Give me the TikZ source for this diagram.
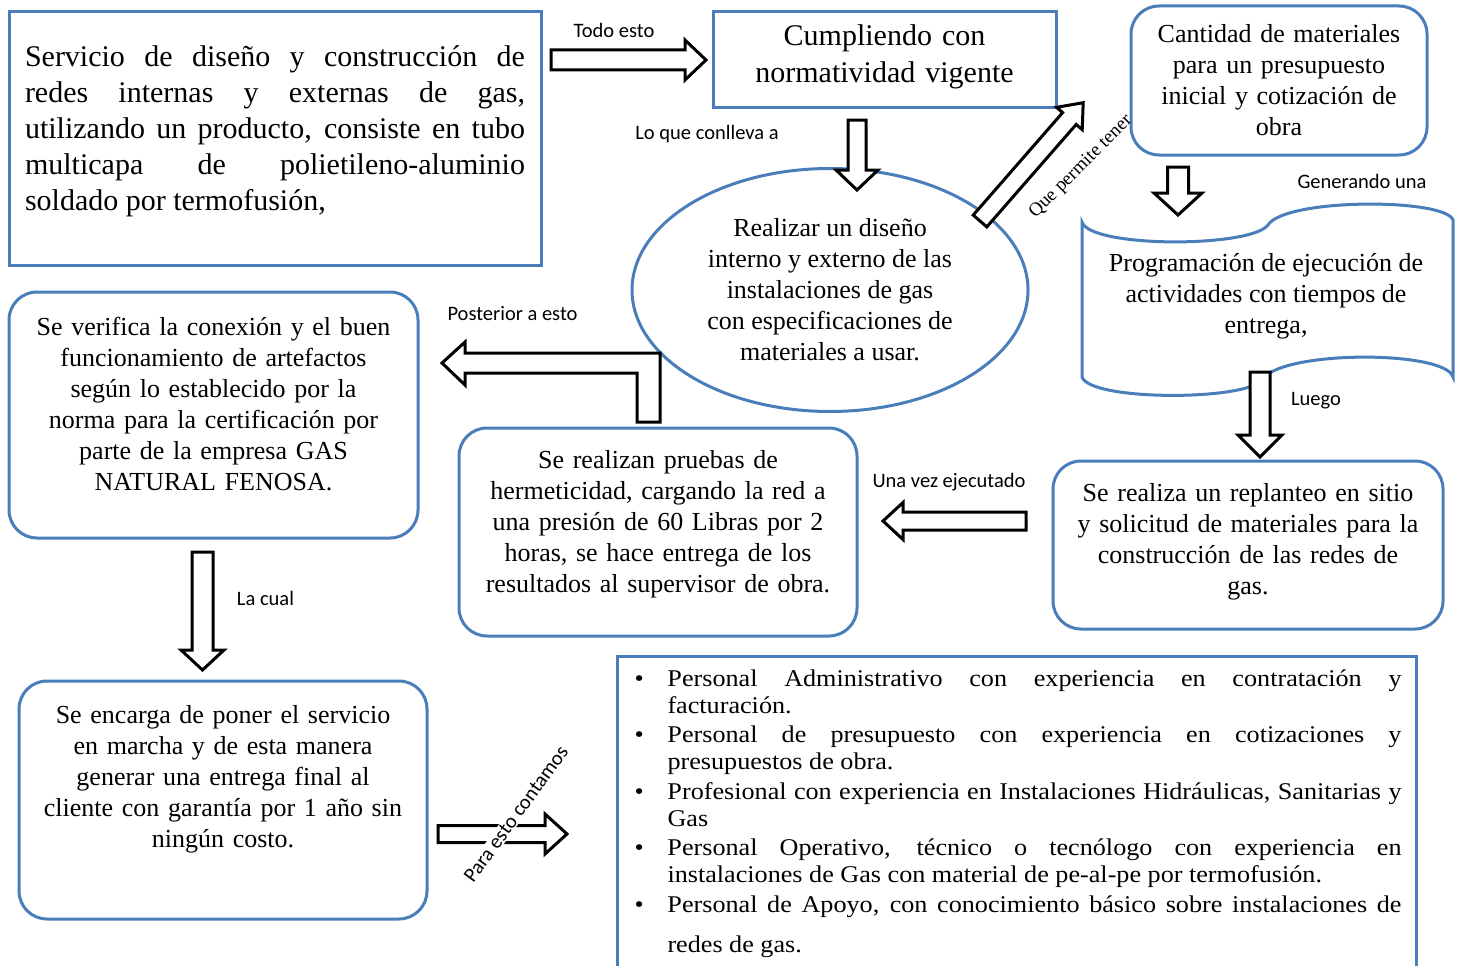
\documentclass[tikz,border=0pt]{standalone}
\usepackage{fontspec}
\setmainfont{Liberation Serif}
\newfontfamily\lblfont{Carlito}
\newfontfamily\listfont[FakeStretch=1.09]{Liberation Serif}
\usetikzlibrary{shapes.geometric}
\definecolor{boxblue}{RGB}{74,126,187}
\hyphenpenalty=10000
\exhyphenpenalty=10000
\newcommand{\bodysize}{\fontsize{26}{31}\selectfont}
\newcommand{\bigsize}{\fontsize{30}{36}\selectfont}
\newcommand{\listsize}{\listfont\fontsize{24}{27}\selectfont}
\newcommand{\textlift}[1]{\par\nointerlineskip\vbox to #1pt{}}
\newcommand{\bitem}{\par\noindent\hangindent=36pt\hangafter=1\makebox[36pt][l]{\hspace{3pt}\textbullet}}
\tikzset{
  frame/.style={draw=boxblue, line width=3pt, fill=white},
  sqbox/.style={frame, rectangle, inner sep=4pt, align=center},
  rbox/.style={frame, rectangle, rounded corners=28pt, inner sep=4pt, align=center, font=\bodysize},
  lbl/.style={font=\lblfont\fontsize{20.5}{23}\selectfont, inner sep=1pt},
  fatline/.style={draw=black, line width=3pt, fill=white, line join=miter},
  pics/fatarrow/.style n args={4}{code={
    \draw[fatline] (0,-#2) -- ({#1-#4},-#2) -- ({#1-#4},-#3) -- (#1,0)
      -- ({#1-#4},#3) -- ({#1-#4},#2) -- (0,#2) -- cycle;
  }},
}
\begin{document}
\begin{tikzpicture}[x=1pt, y=-1pt]
  \useasboundingbox (0,0) rectangle (1459,966);

  % cajas
  \node[sqbox, minimum width=532pt, minimum height=253pt, text width=500pt, align=justify, font=\bigsize] (servicio) at (275,138.5)
    {Servicio de diseño y construcción de\linebreak redes internas y externas de gas,\linebreak utilizando un producto, consiste en tubo\linebreak multicapa de polietileno-aluminio\linebreak soldado por termofusión,\textlift{15}};
  \node[sqbox, minimum width=343pt, minimum height=95pt, text width=330pt, font=\fontsize{30}{37}\selectfont] (norma) at (884.5,59.5)
    {Cumpliendo con\\ normatividad vigente\textlift{6}};
  \node[rbox, minimum width=296pt, minimum height=149pt, text width=285pt] (cantidad) at (1279,80.5)
    {Cantidad de materiales\\ para un presupuesto\\ inicial y cotización de\\ obra};
  \node[frame, ellipse, minimum width=396pt, minimum height=243pt, inner sep=2pt, align=center, font=\bodysize] (diseno) at (830,290)
    {Realizar un diseño\\ interno y externo de las\\ instalaciones de gas\\ con especificaciones de\\ materiales a usar.};

  % cinta perforada
  \draw[frame] (1082,222) .. controls (1090,248) and (1250,248) .. (1268,225)
    .. controls (1285,198) and (1445,198) .. (1453,220) -- (1453,377)
    .. controls (1445,350) and (1280,350) .. (1262,380)
    .. controls (1245,401) and (1090,401) .. (1082,377) -- cycle;
  \node[align=center, font=\bodysize] (programa) at (1266,296)
    {Programación de ejecución de\\ actividades con tiempos de\\ entrega,};

  \node[rbox, minimum width=390pt, minimum height=168pt, text width=380pt] (replanteo) at (1248,545)
    {Se realiza un replanteo en sitio\\ y solicitud de materiales para la\\ construcción de las redes de\\ gas.\textlift{7}};
  \node[rbox, minimum width=398pt, minimum height=208pt, text width=388pt] (pruebas) at (658,532)
    {Se realizan pruebas de\\ hermeticidad, cargando la red a\\ una presión de 60 Libras por 2\\ horas, se hace entrega de los\\ resultados al supervisor de obra.\textlift{15}};
  \node[rbox, minimum width=409pt, minimum height=246pt, text width=400pt] (verifica) at (213.5,415)
    {Se verifica la conexión y el buen\\ funcionamiento de artefactos\\ según lo establecido por la\\ norma para la certificación por\\ parte de la empresa GAS\\ NATURAL FENOSA.\textlift{21}};
  \node[rbox, minimum width=408pt, minimum height=238pt, text width=400pt] (encarga) at (223,800)
    {Se encarga de poner el servicio\\ en marcha y de esta manera\\ generar una entrega final al\\ cliente con garantía por 1 año sin\\ ningún costo.\textlift{41}};
  \node[sqbox, anchor=north, inner ysep=0pt, minimum width=799pt, minimum height=340pt, text width=770pt, align=justify, font=\listsize] (personal) at (1016.5,655)
    {\parskip=2.5pt
     \bitem Personal Administrativo con experiencia en contratación y\linebreak facturación.
     \bitem Personal de presupuesto con experiencia en cotizaciones y\linebreak presupuestos de obra.
     \bitem Profesional con experiencia en Instalaciones Hidráulicas, Sanitarias y\linebreak Gas
     \bitem Personal Operativo, técnico o tecnólogo con experiencia en\linebreak instalaciones de Gas con material de pe-al-pe por termofusión.
     \bitem Personal de Apoyo, con conocimiento básico sobre instalaciones de\vadjust{\vskip13pt}\linebreak redes de gas.\textlift{48}};

  % flechas
  \pic at (551,60) {fatarrow={155}{10}{20}{21}};
  \pic[rotate=-90] at (857,120) {fatarrow={70}{9}{21}{20}};
  \pic[rotate=48.9] at (980,221) {fatarrow={157}{9}{17}{21}};
  \pic[rotate=-90] at (1178,167) {fatarrow={48}{10.5}{24}{22}};
  \pic[rotate=-90] at (1260,372) {fatarrow={85}{10}{22}{22}};
  \pic[rotate=180] at (1026,521) {fatarrow={143}{9}{18.5}{20}};
  \draw[fatline] (660,422) -- (660,353) -- (465,353) -- (465,342) -- (442,363)
    -- (465,385) -- (465,373) -- (637,373) -- (637,422) -- cycle;
  \pic[rotate=-90] at (202.5,552) {fatarrow={118}{10.5}{21.5}{20}};
  \pic at (438,834) {fatarrow={129}{8.5}{20}{22}};

  % etiquetas
  \node[lbl] (todo) at (614,30) {Todo esto};
  \node[lbl] (conlleva) at (707,134) {Lo que conlleva a};
  \node[font=\fontsize{19}{22}\selectfont, inner sep=1pt, rotate=45] (permite) at (1081,167) {Que permite tener};
  \node[lbl] (generando) at (1362,181) {Generando una};
  \node[lbl] (luego) at (1316,401) {Luego};
  \node[lbl] (unavez) at (949,482) {Una vez ejecutado};
  \node[lbl] (posterior) at (512.5,314) {Posterior a esto};
  \node[lbl] (lacual) at (265.5,598) {La cual};
  \node[lbl, fill=white, rotate=54] (paraesto) at (516,814) {Para esto contamos};
\end{tikzpicture}
\end{document}
